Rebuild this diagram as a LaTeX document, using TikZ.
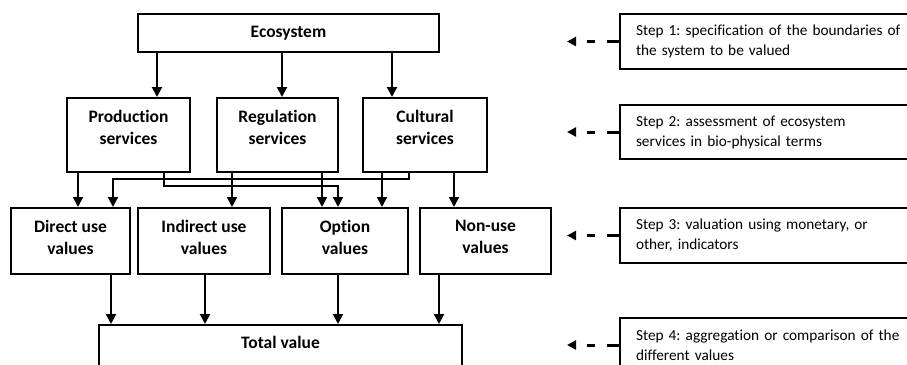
\documentclass[tikz,border=0pt]{standalone}
\usepackage{fontspec}
\setmainfont{Carlito}[Ligatures=NoCommon]
\frenchspacing
\usetikzlibrary{arrows.meta}
\begin{document}
\begin{tikzpicture}[x=1pt,y=-1pt,
  box/.style={draw, line width=2pt, inner sep=0pt},
  lbl/.style={font=\fontsize{17.5}{22}\selectfont\bfseries, align=center, inner sep=0pt},
  stepbox/.style={draw, line width=2pt, anchor=west, font=\fontsize{15.3}{20}\selectfont,
    align=left, text width=280pt, inner xsep=16pt, inner ysep=0pt},
  arr/.style={line width=2pt, -{Triangle[width=10pt,length=10pt]}},
  darr/.style={line width=3pt, dash pattern=on 12pt off 12pt on 8pt off 20pt,
    -{Triangle[width=9pt,length=9pt]}}]
\useasboundingbox (0,0) rectangle (907,364);
\clip (0,0) rectangle (907,364);

% boxes
\node[box, minimum width=301pt, minimum height=38pt] (eco) at (288.5,33) {};
\node[box, minimum width=123pt, minimum height=74pt] (prod) at (128.5,135) {};
\node[box, minimum width=121pt, minimum height=74pt] (reg) at (277.5,135) {};
\node[box, minimum width=124pt, minimum height=74pt] (cult) at (425,135) {};
\node[box, minimum width=119pt, minimum height=66pt] (direct) at (70.5,241) {};
\node[box, minimum width=132pt, minimum height=66pt] (indirect) at (204,241) {};
\node[box, minimum width=126pt, minimum height=66pt] (option) at (345,241) {};
\node[box, minimum width=131pt, minimum height=66pt] (nonuse) at (485.5,241) {};
\node[box, minimum width=363pt, minimum height=60pt] (total) at (280.5,355) {};

% texts
\node[lbl] (ecotxt) at (eco.center) {Ecosystem};
\node[lbl] (prodtxt) at ([yshift=8pt]prod.center) {Production\\services};
\node[lbl] (regtxt) at ([yshift=8pt]reg.center) {Regulation\\services};
\node[lbl] (culttxt) at ([yshift=8pt]cult.center) {Cultural\\services};
\node[lbl] (directtxt) at ([yshift=4pt]direct.center) {Direct use\\values};
\node[lbl] (indirecttxt) at ([yshift=4pt]indirect.center) {Indirect use\\values};
\node[lbl] (optiontxt) at ([yshift=4pt]option.center) {Option\\values};
\node[lbl] (nonusetxt) at ([yshift=4pt]nonuse.center) {Non-use\\values};
\node[lbl] (totaltxt) at (280.5,342) {Total value};

% steps
\node[stepbox, minimum height=55pt] (s1) at (619,41.5) {Step 1: specification of the boundaries of\\the system to be valued};
\node[stepbox, minimum height=54pt] (s2) at (619,132) {Step 2: assessment of ecosystem\\services in bio-physical terms};
\node[stepbox, minimum height=55pt] (s3) at (619,235.5) {Step 3: valuation using monetary, or\\other, indicators};
\node[stepbox, minimum height=54pt] (s4) at (619,345) {Step 4: aggregation or comparison of the\\different values};

\coordinate (tip) at (567,0);
\foreach \s in {s1,s2,s3,s4}
  \draw[darr] (\s.west) -- (\s.west -| tip);

% column coordinates
\foreach \x in {78,111,113,157,164,205,232,282,322,338,382,392,409,439,454}
  \coordinate (c\x) at (\x,0);
\coordinate (h179) at (0,178.5);
\coordinate (h186) at (0,186);

\draw[arr] (eco.south -| c157) -- (prod.north -| c157);
\draw[arr] (eco.south -| c282) -- (reg.north -| c282);
\draw[arr] (eco.south -| c392) -- (cult.north -| c392);

\draw[arr] (prod.south -| c78) -- (direct.north -| c78);
\draw[arr] (cult.south -| c409) -- (c409 |- h179) -- (c113 |- h179) -- (direct.north -| c113);
\draw[arr] (prod.south -| c164) -- (c164 |- h186) -- (c338 |- h186) -- (option.north -| c338);
\draw[arr] (reg.south -| c232) -- (indirect.north -| c232);
\draw[arr] (reg.south -| c322) -- (option.north -| c322);
\draw[arr] (cult.south -| c382) -- (option.north -| c382);
\draw[arr] (cult.south -| c454) -- (nonuse.north -| c454);

\draw[arr] (direct.south -| c111) -- (total.north -| c111);
\draw[arr] (indirect.south -| c205) -- (total.north -| c205);
\draw[arr] (option.south -| c338) -- (total.north -| c338);
\draw[arr] (nonuse.south -| c439) -- (total.north -| c439);
\end{tikzpicture}
\end{document}
